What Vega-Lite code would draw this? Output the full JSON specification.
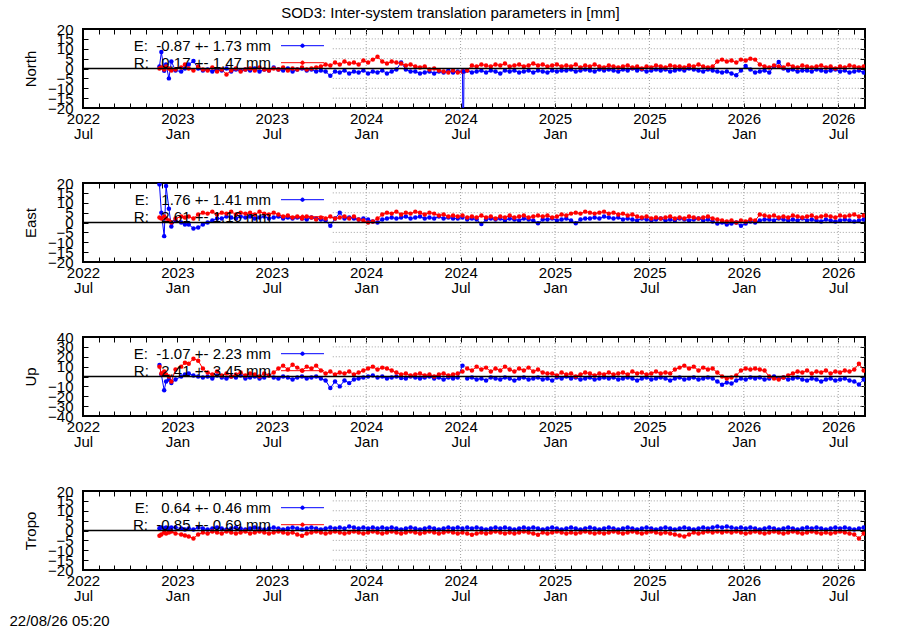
{
  "$schema": "https://vega.github.io/schema/vega-lite/v6.json",
  "padding": {"left": 8, "top": 5, "right": 5, "bottom": 5},
  "title": {"text": "SOD3: Inter-system translation parameters in [mm]", "fontSize": 15, "fontWeight": "normal", "font": "Liberation Sans", "anchor": "middle", "color": "black", "dx": 13, "offset": 0.5},
  "datasets": {
    "hgrid": [{"g": -15}, {"g": -10}, {"g": -5}, {"g": 5}, {"g": 10}, {"g": 15}],
    "hgridU": [{"g": -30}, {"g": -20}, {"g": -10}, {"g": 10}, {"g": 20}, {"g": 30}],
    "vgrid": [{"g": 2024}, {"g": 2024.5}, {"g": 2025}, {"g": 2025.5}, {"g": 2026}, {"g": 2026.5}],
    "zero": [{"v": 0}],
    "ts": [
      {"t":2022.905,"nE":1,"nR":0,"eE":19.3,"eR":2.5,"uE":11.7,"uR":10,"tE":1.2,"tR":-2.7},
      {"t":2022.915,"nE":8.3,"nR":0.5,"eE":5,"eR":2,"uE":2,"uR":3,"tE":1.5,"tR":-2},
      {"t":2022.93,"nE":-1.2,"nR":-0.5,"eE":-6.9,"eR":3,"uE":-14,"uR":5,"tE":1,"tR":-1},
      {"t":2022.94,"nE":2,"nR":1,"eE":18.5,"eR":2,"uE":-5,"uR":2,"tE":1.5,"tR":-1.5},
      {"t":2022.955,"nE":-5,"nR":0,"eE":7,"eR":1,"uE":-3,"uR":0,"tE":1,"tR":-1},
      {"t":2022.968,"nE":3.5,"nR":-1,"eE":-2,"eR":0,"uE":-6.7,"uR":-5,"tE":1.5,"tR":-0.5},
      {"t":2022.99,"nE":-1,"nR":-0.5,"eE":1,"eR":2,"uE":-3,"uR":7,"tE":1.5,"tR":-1.5},
      {"t":2023.02,"nE":-1.5,"nR":0.5,"eE":0,"eR":3,"uE":0,"uR":10,"tE":1,"tR":-2},
      {"t":2023.04,"nE":0,"nR":2,"eE":-1,"eR":2.5,"uE":2,"uR":14,"tE":0.5,"tR":-2.5},
      {"t":2023.06,"nE":2,"nR":0,"eE":-1,"eR":3,"uE":3,"uR":13,"tE":1,"tR":-3},
      {"t":2023.085,"nE":3.8,"nR":-1,"eE":-3,"eR":2,"uE":1,"uR":18,"tE":0.5,"tR":-4},
      {"t":2023.11,"nE":0,"nR":1,"eE":-2.5,"eR":4,"uE":0,"uR":16,"tE":1.5,"tR":-2},
      {"t":2023.135,"nE":-1,"nR":-0.5,"eE":-1,"eR":5,"uE":-1,"uR":8,"tE":1,"tR":-1},
      {"t":2023.16,"nE":-0.5,"nR":-1,"eE":0,"eR":4.5,"uE":0,"uR":4,"tE":0.5,"tR":-1.5},
      {"t":2023.185,"nE":-1.5,"nR":0.5,"eE":1,"eR":5.5,"uE":-2,"uR":2,"tE":1,"tR":-0.5},
      {"t":2023.21,"nE":-0.5,"nR":-1.5,"eE":2,"eR":4,"uE":1,"uR":5,"tE":1.5,"tR":-1},
      {"t":2023.235,"nE":-1,"nR":-0.5,"eE":2,"eR":5,"uE":-1,"uR":1,"tE":1,"tR":-1.5},
      {"t":2023.26,"nE":0,"nR":-3,"eE":3,"eR":4.5,"uE":-2,"uR":3,"tE":0.5,"tR":-0.5},
      {"t":2023.285,"nE":-1.5,"nR":-1,"eE":2.5,"eR":5.5,"uE":0,"uR":0,"tE":1,"tR":-1},
      {"t":2023.31,"nE":-0.5,"nR":0,"eE":2,"eR":4,"uE":-1,"uR":2,"tE":1.5,"tR":-1.5},
      {"t":2023.335,"nE":-1,"nR":-1.5,"eE":3,"eR":5,"uE":1,"uR":4,"tE":1,"tR":-1},
      {"t":2023.36,"nE":-0.5,"nR":-0.5,"eE":2.5,"eR":4.5,"uE":-2,"uR":1,"tE":0.5,"tR":-0.5},
      {"t":2023.385,"nE":-1,"nR":0,"eE":3,"eR":5,"uE":-1,"uR":3,"tE":1,"tR":-1.5},
      {"t":2023.41,"nE":0,"nR":-1,"eE":2,"eR":4,"uE":0,"uR":2,"tE":1.5,"tR":-1},
      {"t":2023.435,"nE":-1.5,"nR":0.5,"eE":2.5,"eR":5.5,"uE":-2,"uR":0,"tE":1,"tR":-0.5},
      {"t":2023.46,"nE":-0.5,"nR":-0.5,"eE":3,"eR":4.5,"uE":-1,"uR":3,"tE":0.5,"tR":-1},
      {"t":2023.485,"nE":-1,"nR":-1,"eE":2,"eR":4,"uE":1,"uR":1,"tE":1,"tR":-1.5},
      {"t":2023.51,"nE":0.5,"nR":0,"eE":2.5,"eR":5,"uE":-1,"uR":4,"tE":1.5,"tR":-1},
      {"t":2023.535,"nE":-0.5,"nR":-0.5,"eE":3,"eR":4,"uE":-2,"uR":8,"tE":1,"tR":-0.5},
      {"t":2023.56,"nE":-1,"nR":0.5,"eE":2,"eR":3,"uE":0,"uR":11,"tE":0.5,"tR":-1},
      {"t":2023.585,"nE":0,"nR":-1,"eE":2.5,"eR":3.5,"uE":-1,"uR":7,"tE":1,"tR":-1.5},
      {"t":2023.61,"nE":-1.5,"nR":0,"eE":2,"eR":2.5,"uE":-3,"uR":12,"tE":1.5,"tR":-1},
      {"t":2023.635,"nE":-0.5,"nR":-0.5,"eE":2.5,"eR":3,"uE":-1,"uR":9,"tE":1,"tR":-2},
      {"t":2023.66,"nE":0,"nR":0.5,"eE":2,"eR":2,"uE":0,"uR":6,"tE":0.5,"tR":-2.7},
      {"t":2023.685,"nE":-1,"nR":-0.5,"eE":1.5,"eR":3,"uE":-2,"uR":10,"tE":1,"tR":-1.5},
      {"t":2023.71,"nE":-0.5,"nR":0,"eE":2.5,"eR":2.5,"uE":-1,"uR":8,"tE":1.5,"tR":-1},
      {"t":2023.735,"nE":-1.5,"nR":0.5,"eE":2,"eR":1.5,"uE":0,"uR":11,"tE":1,"tR":-0.5},
      {"t":2023.76,"nE":-1,"nR":1,"eE":1.5,"eR":2.5,"uE":-2,"uR":6,"tE":0.5,"tR":-1},
      {"t":2023.785,"nE":-1.5,"nR":2,"eE":1,"eR":2,"uE":-4,"uR":3,"tE":1,"tR":-1.5},
      {"t":2023.81,"nE":-3.7,"nR":1.5,"eE":-1.7,"eR":3,"uE":-11.7,"uR":5,"tE":1.5,"tR":-1},
      {"t":2023.835,"nE":-1.5,"nR":3,"eE":2,"eR":2,"uE":-5,"uR":2,"tE":1,"tR":-0.5},
      {"t":2023.86,"nE":-2,"nR":2,"eE":5,"eR":2.5,"uE":-10,"uR":4,"tE":1.5,"tR":-1},
      {"t":2023.885,"nE":-1,"nR":3.5,"eE":2,"eR":3,"uE":-4,"uR":3,"tE":1,"tR":-1.5},
      {"t":2023.91,"nE":-2.5,"nR":2.5,"eE":2.5,"eR":2,"uE":-6.7,"uR":5,"tE":2,"tR":-1},
      {"t":2023.935,"nE":-1.5,"nR":3,"eE":2,"eR":3,"uE":-3,"uR":2,"tE":1.5,"tR":-0.5},
      {"t":2023.96,"nE":-2,"nR":2,"eE":1.5,"eR":1.5,"uE":-2,"uR":4,"tE":1,"tR":-1},
      {"t":2023.985,"nE":-1,"nR":4,"eE":2,"eR":1,"uE":-1,"uR":6,"tE":1.5,"tR":-1.5},
      {"t":2024.01,"nE":-2.5,"nR":3,"eE":1.5,"eR":0,"uE":0,"uR":8,"tE":1,"tR":-1},
      {"t":2024.035,"nE":-1.5,"nR":4.5,"eE":0.5,"eR":0.5,"uE":1,"uR":10,"tE":1.5,"tR":-0.5},
      {"t":2024.06,"nE":-2,"nR":6,"eE":0,"eR":2,"uE":-1,"uR":7,"tE":1,"tR":-1},
      {"t":2024.085,"nE":-1,"nR":3.5,"eE":1.5,"eR":4,"uE":0,"uR":9,"tE":1.5,"tR":-1.5},
      {"t":2024.11,"nE":-2.5,"nR":2.5,"eE":2,"eR":5,"uE":-2,"uR":8,"tE":1,"tR":-1},
      {"t":2024.135,"nE":-1.5,"nR":3.5,"eE":2.5,"eR":4.5,"uE":-1,"uR":6,"tE":1.5,"tR":-0.5},
      {"t":2024.16,"nE":-0.5,"nR":3,"eE":2,"eR":5.5,"uE":0,"uR":4,"tE":1,"tR":-1},
      {"t":2024.185,"nE":3,"nR":2.5,"eE":2.5,"eR":4,"uE":-1.5,"uR":2,"tE":0.5,"tR":-1.5},
      {"t":2024.21,"nE":-0.5,"nR":1.5,"eE":3,"eR":5,"uE":-2,"uR":3,"tE":1,"tR":-1},
      {"t":2024.235,"nE":-1.5,"nR":2,"eE":2,"eR":4.5,"uE":0,"uR":1,"tE":1.5,"tR":-0.5},
      {"t":2024.26,"nE":-1.5,"nR":1,"eE":2.5,"eR":5.5,"uE":-1,"uR":2,"tE":1,"tR":-1},
      {"t":2024.285,"nE":-2.5,"nR":0.5,"eE":3,"eR":5,"uE":-2,"uR":3,"tE":0.5,"tR":-1.5},
      {"t":2024.31,"nE":-2,"nR":1,"eE":2,"eR":4,"uE":-1,"uR":1,"tE":1,"tR":-1},
      {"t":2024.335,"nE":-1.5,"nR":-0.5,"eE":2.5,"eR":5,"uE":0,"uR":2,"tE":1.5,"tR":-0.5},
      {"t":2024.36,"nE":-2.5,"nR":0,"eE":2,"eR":4.5,"uE":-2,"uR":0,"tE":1,"tR":-1},
      {"t":2024.385,"nE":-1.5,"nR":-1,"eE":3,"eR":3.5,"uE":-1,"uR":2,"tE":0.5,"tR":-1.5},
      {"t":2024.41,"nE":-2,"nR":-1.5,"eE":2,"eR":4,"uE":-3,"uR":3,"tE":1,"tR":-1},
      {"t":2024.435,"nE":-1,"nR":-2,"eE":2.5,"eR":3,"uE":-1,"uR":1,"tE":1.5,"tR":-0.5},
      {"t":2024.46,"nE":-2,"nR":-1,"eE":2,"eR":3.5,"uE":-2,"uR":2,"tE":1,"tR":-1},
      {"t":2024.485,"nE":-1.5,"nR":-2,"eE":2,"eR":3,"uE":-1,"uR":3,"tE":1.5,"tR":-1.5},
      {"t":2024.51,"nE":-1.5,"nR":-1.5,"eE":2.5,"eR":3.5,"uE":11,"uR":5,"tE":1,"tR":-1},
      {"t":2024.514,"nE":-45},
      {"t":2024.518,"nE":-1.5},
      {"t":2024.535,"nE":-1,"nR":-1,"eE":1.5,"eR":2.5,"uE":-2,"uR":8,"tE":1.5,"tR":-1.5},
      {"t":2024.56,"nE":-2,"nR":1.5,"eE":2,"eR":3,"uE":-1,"uR":6,"tE":1,"tR":-2.2},
      {"t":2024.585,"nE":-1.5,"nR":1,"eE":1.5,"eR":2.5,"uE":-3,"uR":10,"tE":1.5,"tR":-1.5},
      {"t":2024.61,"nE":-1,"nR":2,"eE":-0.8,"eR":3.5,"uE":-2,"uR":7,"tE":1,"tR":-1},
      {"t":2024.635,"nE":-2,"nR":1.5,"eE":1.5,"eR":2.5,"uE":-4,"uR":9,"tE":0.5,"tR":-1.5},
      {"t":2024.66,"nE":-1,"nR":1,"eE":2,"eR":3,"uE":-1,"uR":5,"tE":1,"tR":-1},
      {"t":2024.685,"nE":-1.5,"nR":2,"eE":1.5,"eR":2,"uE":-2,"uR":8,"tE":1.5,"tR":-0.5},
      {"t":2024.71,"nE":-2.5,"nR":1.5,"eE":2,"eR":3,"uE":-3,"uR":6,"tE":1,"tR":-1},
      {"t":2024.735,"nE":-1,"nR":2.5,"eE":1,"eR":2.5,"uE":-1,"uR":10,"tE":1.5,"tR":-1.5},
      {"t":2024.76,"nE":-1.5,"nR":1,"eE":2,"eR":3.5,"uE":-2,"uR":7,"tE":1,"tR":-1},
      {"t":2024.785,"nE":-1,"nR":1.5,"eE":1.5,"eR":2.5,"uE":-4,"uR":5,"tE":0.5,"tR":-1.5},
      {"t":2024.81,"nE":-2,"nR":2,"eE":1,"eR":3,"uE":-2,"uR":8,"tE":1,"tR":-1},
      {"t":2024.835,"nE":-1.5,"nR":1,"eE":2,"eR":3.5,"uE":-1,"uR":6,"tE":1.5,"tR":-0.5},
      {"t":2024.86,"nE":-1,"nR":1.5,"eE":1.5,"eR":2.5,"uE":-3,"uR":9,"tE":1,"tR":-1},
      {"t":2024.885,"nE":-2,"nR":2.5,"eE":1,"eR":3,"uE":-2,"uR":5,"tE":1.5,"tR":-1.5},
      {"t":2024.91,"nE":-1,"nR":1.5,"eE":-0.4,"eR":3.5,"uE":-1,"uR":7,"tE":1,"tR":-2.2},
      {"t":2024.935,"nE":-1.5,"nR":2,"eE":1.5,"eR":3,"uE":-3,"uR":4,"tE":0.5,"tR":-1},
      {"t":2024.96,"nE":-2,"nR":1,"eE":1.5,"eR":3.5,"uE":-2,"uR":3,"tE":1,"tR":-1.5},
      {"t":2024.985,"nE":-1,"nR":1.5,"eE":2,"eR":2.5,"uE":-4,"uR":3,"tE":1.5,"tR":-1},
      {"t":2025.01,"nE":-1.5,"nR":2,"eE":1,"eR":3,"uE":-1,"uR":1,"tE":1,"tR":-0.5},
      {"t":2025.035,"nE":-1,"nR":1,"eE":1.5,"eR":4,"uE":-2,"uR":4,"tE":0.5,"tR":-1},
      {"t":2025.06,"nE":-1,"nR":1.5,"eE":2,"eR":3.5,"uE":0,"uR":2,"tE":1,"tR":-1.5},
      {"t":2025.085,"nE":-0.5,"nR":1,"eE":1,"eR":4.5,"uE":-2,"uR":3,"tE":1.5,"tR":-1},
      {"t":2025.11,"nE":-1.5,"nR":2,"eE":-0.4,"eR":5,"uE":-1,"uR":0,"tE":1,"tR":-1.5},
      {"t":2025.135,"nE":-1,"nR":0.5,"eE":1.5,"eR":4.5,"uE":-3,"uR":2,"tE":0.5,"tR":-1},
      {"t":2025.16,"nE":-0.5,"nR":1.5,"eE":2,"eR":5.5,"uE":-2,"uR":4,"tE":1,"tR":-0.5},
      {"t":2025.185,"nE":-1,"nR":1,"eE":2,"eR":5,"uE":-1,"uR":3,"tE":1.5,"tR":-1},
      {"t":2025.21,"nE":-1.5,"nR":2,"eE":2.5,"eR":4.5,"uE":-3,"uR":1,"tE":1,"tR":-1.5},
      {"t":2025.235,"nE":-0.5,"nR":1,"eE":2,"eR":5,"uE":-2,"uR":3,"tE":0.5,"tR":-1},
      {"t":2025.26,"nE":-1,"nR":0.5,"eE":3,"eR":5.5,"uE":-1,"uR":2,"tE":1,"tR":-1.5},
      {"t":2025.285,"nE":-0.5,"nR":1.5,"eE":2.5,"eR":4.5,"uE":-2,"uR":4,"tE":1.5,"tR":-1},
      {"t":2025.31,"nE":-1,"nR":1,"eE":2,"eR":5,"uE":-1,"uR":2,"tE":1,"tR":-0.5},
      {"t":2025.335,"nE":-1.5,"nR":0.5,"eE":2.5,"eR":4,"uE":-3,"uR":3,"tE":0.5,"tR":-1},
      {"t":2025.36,"nE":-0.5,"nR":1,"eE":1.5,"eR":4.5,"uE":-2,"uR":4,"tE":1,"tR":-1.5},
      {"t":2025.385,"nE":-1,"nR":1.5,"eE":2,"eR":3.5,"uE":-1,"uR":2,"tE":1.5,"tR":-1},
      {"t":2025.41,"nE":0,"nR":0.5,"eE":1.5,"eR":4,"uE":-2,"uR":5,"tE":1,"tR":-0.5},
      {"t":2025.435,"nE":-1,"nR":1,"eE":1,"eR":3,"uE":-4,"uR":3,"tE":0.5,"tR":-1},
      {"t":2025.46,"nE":-0.5,"nR":0,"eE":2,"eR":2.5,"uE":-2,"uR":4,"tE":1,"tR":-1.5},
      {"t":2025.485,"nE":-1.5,"nR":1,"eE":1.5,"eR":3,"uE":-1,"uR":2,"tE":1.5,"tR":-1},
      {"t":2025.51,"nE":-1,"nR":0.5,"eE":1,"eR":2,"uE":-3,"uR":3,"tE":1,"tR":-0.5},
      {"t":2025.535,"nE":-0.5,"nR":1.5,"eE":1.5,"eR":2.5,"uE":-2,"uR":5,"tE":0.5,"tR":-1},
      {"t":2025.56,"nE":-1,"nR":1,"eE":2,"eR":2,"uE":-1,"uR":3,"tE":1,"tR":-1.5},
      {"t":2025.585,"nE":-0.5,"nR":0.5,"eE":1,"eR":2.5,"uE":-2,"uR":4,"tE":1.5,"tR":-1},
      {"t":2025.61,"nE":-1.5,"nR":1.5,"eE":1.5,"eR":3,"uE":-4,"uR":3,"tE":1,"tR":-1.5},
      {"t":2025.635,"nE":-1,"nR":1,"eE":1,"eR":2,"uE":-2,"uR":7,"tE":0.5,"tR":-2},
      {"t":2025.66,"nE":-0.5,"nR":1,"eE":2,"eR":2.5,"uE":-1,"uR":9,"tE":1,"tR":-2.5},
      {"t":2025.685,"nE":-1,"nR":0.5,"eE":1.5,"eR":2,"uE":-3,"uR":11,"tE":1.5,"tR":-3},
      {"t":2025.71,"nE":0,"nR":1.5,"eE":1,"eR":3,"uE":-2,"uR":8,"tE":1,"tR":-2},
      {"t":2025.735,"nE":-0.5,"nR":1,"eE":1.5,"eR":2.5,"uE":-1,"uR":10,"tE":0.5,"tR":-1},
      {"t":2025.76,"nE":-1,"nR":2,"eE":2,"eR":2,"uE":-3,"uR":6,"tE":1,"tR":-1.5},
      {"t":2025.785,"nE":-1.5,"nR":1,"eE":1,"eR":2.5,"uE":-2,"uR":9,"tE":1.5,"tR":-1},
      {"t":2025.81,"nE":-0.5,"nR":0.5,"eE":1.5,"eR":3,"uE":-1,"uR":7,"tE":1,"tR":-0.5},
      {"t":2025.835,"nE":-1,"nR":1,"eE":0.5,"eR":2,"uE":-2,"uR":8,"tE":1.5,"tR":-1},
      {"t":2025.86,"nE":-1.5,"nR":3.5,"eE":-0.5,"eR":1.5,"uE":-5,"uR":4,"tE":2,"tR":-0.5},
      {"t":2025.885,"nE":-2,"nR":4.5,"eE":0,"eR":1,"uE":-8.3,"uR":0,"tE":1.5,"tR":-1},
      {"t":2025.91,"nE":-1.5,"nR":3.5,"eE":-1,"eR":0.5,"uE":-6,"uR":-2,"tE":2,"tR":-0.5},
      {"t":2025.935,"nE":-2.5,"nR":4,"eE":-0.5,"eR":1,"uE":-7,"uR":-1,"tE":1.5,"tR":-1},
      {"t":2025.96,"nE":-3.4,"nR":3,"eE":0,"eR":0,"uE":-4,"uR":1,"tE":1,"tR":-0.5},
      {"t":2025.985,"nE":-1,"nR":4.5,"eE":-1.7,"eR":1,"uE":-2,"uR":6,"tE":1.5,"tR":-1},
      {"t":2026.01,"nE":1.3,"nR":4,"eE":-0.5,"eR":0.5,"uE":-3,"uR":8,"tE":1,"tR":-1.5},
      {"t":2026.035,"nE":-0.5,"nR":5,"eE":0.5,"eR":1.5,"uE":-1,"uR":7,"tE":1.5,"tR":-1},
      {"t":2026.06,"nE":-2,"nR":4.5,"eE":0,"eR":1,"uE":-2,"uR":8,"tE":1,"tR":-0.5},
      {"t":2026.085,"nE":-1.5,"nR":2,"eE":1,"eR":4,"uE":-1,"uR":7,"tE":0.5,"tR":-1},
      {"t":2026.11,"nE":-1,"nR":1,"eE":1.5,"eR":3.5,"uE":-3,"uR":6,"tE":1,"tR":-1.5},
      {"t":2026.135,"nE":-2,"nR":0.5,"eE":1.5,"eR":3,"uE":-2,"uR":0,"tE":1.5,"tR":-1},
      {"t":2026.16,"nE":1,"nR":1.5,"eE":1,"eR":3.5,"uE":0,"uR":-2,"tE":1,"tR":-0.5},
      {"t":2026.185,"nE":3.3,"nR":1,"eE":2,"eR":2.5,"uE":-2,"uR":-3,"tE":0.5,"tR":-1},
      {"t":2026.21,"nE":0,"nR":0.5,"eE":1.5,"eR":3,"uE":-1,"uR":-1,"tE":1,"tR":-1.5},
      {"t":2026.235,"nE":-1,"nR":2,"eE":1,"eR":2.5,"uE":-3,"uR":1,"tE":1.5,"tR":-1},
      {"t":2026.26,"nE":-0.5,"nR":1,"eE":1.5,"eR":3.5,"uE":-2,"uR":3,"tE":1,"tR":-0.5},
      {"t":2026.285,"nE":-1.5,"nR":0.5,"eE":1,"eR":3,"uE":-1,"uR":5,"tE":0.5,"tR":-1},
      {"t":2026.31,"nE":-1,"nR":1.5,"eE":2,"eR":2.5,"uE":-3,"uR":4,"tE":1,"tR":-1.5},
      {"t":2026.335,"nE":-1,"nR":1,"eE":1,"eR":3,"uE":-4,"uR":6,"tE":1.5,"tR":-1},
      {"t":2026.36,"nE":-1.5,"nR":0.5,"eE":1.5,"eR":3.5,"uE":-2,"uR":3,"tE":1,"tR":-0.5},
      {"t":2026.385,"nE":-0.5,"nR":1,"eE":1,"eR":2.5,"uE":-3,"uR":5,"tE":1.5,"tR":-1},
      {"t":2026.41,"nE":-1,"nR":1.5,"eE":0.5,"eR":3,"uE":-5,"uR":4,"tE":1,"tR":-1.5},
      {"t":2026.435,"nE":-1.5,"nR":0.5,"eE":1.5,"eR":3.5,"uE":-3,"uR":6,"tE":0.5,"tR":-1},
      {"t":2026.46,"nE":-1,"nR":1,"eE":1,"eR":3,"uE":-2,"uR":3,"tE":1,"tR":-1.5},
      {"t":2026.485,"nE":-0.5,"nR":0,"eE":0.5,"eR":2.5,"uE":-4,"uR":5,"tE":1.5,"tR":-1},
      {"t":2026.51,"nE":-1.5,"nR":1,"eE":1,"eR":3.5,"uE":-3,"uR":4,"tE":1,"tR":-0.5},
      {"t":2026.535,"nE":-1,"nR":0.5,"eE":1.5,"eR":3,"uE":-2,"uR":6,"tE":1.5,"tR":-1},
      {"t":2026.56,"nE":-2,"nR":1.5,"eE":1,"eR":3.5,"uE":-4,"uR":5,"tE":1,"tR":-1.5},
      {"t":2026.585,"nE":-1.5,"nR":1,"eE":0.5,"eR":4,"uE":-5,"uR":7,"tE":0.5,"tR":-2},
      {"t":2026.61,"nE":-1,"nR":0.5,"eE":1,"eR":3,"uE":-8,"uR":13,"tE":1,"tR":-4},
      {"t":2026.635,"nE":-2,"nR":1,"eE":1.5,"eR":3.5,"uE":-3,"uR":6,"tE":1.5,"tR":-1.5}
    ]
  },
  "vconcat": [
    {
      "width": 782, "height": 79,
      "layer": [
        {"data": {"name": "hgrid"}, "mark": {"type": "rule", "color": "#a0a0a0", "strokeDash": [1, 2], "strokeWidth": 1},
         "encoding": {"y": {"field": "g", "type": "quantitative", "axis": null}, "x": {"datum": 2023.823, "type": "quantitative", "axis": null}, "x2": {"datum": 2026.642}}},
        {"data": {"name": "vgrid"}, "mark": {"type": "rule", "color": "#a0a0a0", "strokeDash": [1, 2], "strokeWidth": 1},
         "encoding": {"x": {"field": "g", "type": "quantitative", "axis": null}}},
        {"data": {"name": "ts"}, "transform": [{"fold": ["nE", "nR"], "as": ["s", "v"]}],
         "mark": {"type": "line", "strokeWidth": 1, "clip": true},
         "encoding": {
           "x": {"field": "t", "type": "quantitative", "scale": {"domain": [2022.5, 2026.642], "nice": false, "zero": false},
                 "axis": {"orient": "bottom", "title": null, "values": [2022.5,2022.5833,2022.6667,2022.75,2022.8333,2022.9167,2023,2023.0833,2023.1667,2023.25,2023.3333,2023.4167,2023.5,2023.5833,2023.6667,2023.75,2023.8333,2023.9167,2024,2024.0833,2024.1667,2024.25,2024.3333,2024.4167,2024.5,2024.5833,2024.6667,2024.75,2024.8333,2024.9167,2025,2025.0833,2025.1667,2025.25,2025.3333,2025.4167,2025.5,2025.5833,2025.6667,2025.75,2025.8333,2025.9167,2026,2026.0833,2026.1667,2026.25,2026.3333,2026.4167,2026.5,2026.5833],
                          "labelExpr": "round((datum.value-2022.5)*12) % 6 == 0 ? [toString(floor(datum.value+0.01)), datum.value - floor(datum.value+0.01) < 0.25 ? 'Jan' : 'Jul'] : ''"}},
           "y": {"field": "v", "type": "quantitative", "scale": {"domain": [-20, 20], "nice": false},
                 "axis": {"orient": "left", "title": "North", "values": [-20,-15,-10,-5,0,5,10,15,20]}},
           "color": {"field": "s", "type": "nominal", "scale": {"domain": ["nE", "nR"], "range": ["#0000ff", "#ff0000"]},
                     "legend": {"labelExpr": "datum.value == 'nE' ? 'E:\u00a0\u00a0-0.87 +- 1.73 mm' : 'R:\u00a0\u00a0\u00a00.17 +- 1.47 mm'"}}
         }},
        {"data": {"name": "ts"}, "transform": [{"fold": ["nE", "nR"], "as": ["s", "v"]}],
         "mark": {"type": "point", "filled": true, "size": 20, "opacity": 1, "clip": true},
         "encoding": {
           "x": {"field": "t", "type": "quantitative", "axis": {"orient": "top", "labels": false, "title": null, "values": [2022.5,2022.5833,2022.6667,2022.75,2022.8333,2022.9167,2023,2023.0833,2023.1667,2023.25,2023.3333,2023.4167,2023.5,2023.5833,2023.6667,2023.75,2023.8333,2023.9167,2024,2024.0833,2024.1667,2024.25,2024.3333,2024.4167,2024.5,2024.5833,2024.6667,2024.75,2024.8333,2024.9167,2025,2025.0833,2025.1667,2025.25,2025.3333,2025.4167,2025.5,2025.5833,2025.6667,2025.75,2025.8333,2025.9167,2026,2026.0833,2026.1667,2026.25,2026.3333,2026.4167,2026.5,2026.5833]}},
           "y": {"field": "v", "type": "quantitative", "axis": {"orient": "right", "labels": false, "title": null, "values": [-20,-15,-10,-5,0,5,10,15,20]}},
           "color": {"field": "s", "type": "nominal", "legend": {"labelExpr": "datum.value == 'nE' ? 'E:\u00a0\u00a0-0.87 +- 1.73 mm' : 'R:\u00a0\u00a0\u00a00.17 +- 1.47 mm'"}}
         }},
        {"data": {"name": "zero"}, "mark": {"type": "rule", "color": "black", "strokeWidth": 1.5},
         "encoding": {"y": {"field": "v", "type": "quantitative", "axis": null}}}
      ],
      "resolve": {"axis": {"x": "independent", "y": "independent"}}
    },
    {
      "width": 782, "height": 79,
      "layer": [
        {"data": {"name": "hgrid"}, "mark": {"type": "rule", "color": "#a0a0a0", "strokeDash": [1, 2], "strokeWidth": 1},
         "encoding": {"y": {"field": "g", "type": "quantitative", "axis": null}, "x": {"datum": 2023.823, "type": "quantitative", "axis": null}, "x2": {"datum": 2026.642}}},
        {"data": {"name": "vgrid"}, "mark": {"type": "rule", "color": "#a0a0a0", "strokeDash": [1, 2], "strokeWidth": 1},
         "encoding": {"x": {"field": "g", "type": "quantitative", "axis": null}}},
        {"data": {"name": "ts"}, "transform": [{"fold": ["eE", "eR"], "as": ["s", "v"]}],
         "mark": {"type": "line", "strokeWidth": 1, "clip": true},
         "encoding": {
           "x": {"field": "t", "type": "quantitative", "scale": {"domain": [2022.5, 2026.642], "nice": false, "zero": false},
                 "axis": {"orient": "bottom", "title": null, "values": [2022.5,2022.5833,2022.6667,2022.75,2022.8333,2022.9167,2023,2023.0833,2023.1667,2023.25,2023.3333,2023.4167,2023.5,2023.5833,2023.6667,2023.75,2023.8333,2023.9167,2024,2024.0833,2024.1667,2024.25,2024.3333,2024.4167,2024.5,2024.5833,2024.6667,2024.75,2024.8333,2024.9167,2025,2025.0833,2025.1667,2025.25,2025.3333,2025.4167,2025.5,2025.5833,2025.6667,2025.75,2025.8333,2025.9167,2026,2026.0833,2026.1667,2026.25,2026.3333,2026.4167,2026.5,2026.5833],
                          "labelExpr": "round((datum.value-2022.5)*12) % 6 == 0 ? [toString(floor(datum.value+0.01)), datum.value - floor(datum.value+0.01) < 0.25 ? 'Jan' : 'Jul'] : ''"}},
           "y": {"field": "v", "type": "quantitative", "scale": {"domain": [-20, 20], "nice": false},
                 "axis": {"orient": "left", "title": "East", "values": [-20,-15,-10,-5,0,5,10,15,20]}},
           "color": {"field": "s", "type": "nominal", "scale": {"domain": ["eE", "eR"], "range": ["#0000ff", "#ff0000"]},
                     "legend": {"labelExpr": "datum.value == 'eE' ? 'E:\u00a0\u00a0\u00a01.76 +- 1.41 mm' : 'R:\u00a0\u00a0\u00a02.61 +- 1.16 mm'"}}
         }},
        {"data": {"name": "ts"}, "transform": [{"fold": ["eE", "eR"], "as": ["s", "v"]}],
         "mark": {"type": "point", "filled": true, "size": 20, "opacity": 1, "clip": true},
         "encoding": {
           "x": {"field": "t", "type": "quantitative", "axis": {"orient": "top", "labels": false, "title": null, "values": [2022.5,2022.5833,2022.6667,2022.75,2022.8333,2022.9167,2023,2023.0833,2023.1667,2023.25,2023.3333,2023.4167,2023.5,2023.5833,2023.6667,2023.75,2023.8333,2023.9167,2024,2024.0833,2024.1667,2024.25,2024.3333,2024.4167,2024.5,2024.5833,2024.6667,2024.75,2024.8333,2024.9167,2025,2025.0833,2025.1667,2025.25,2025.3333,2025.4167,2025.5,2025.5833,2025.6667,2025.75,2025.8333,2025.9167,2026,2026.0833,2026.1667,2026.25,2026.3333,2026.4167,2026.5,2026.5833]}},
           "y": {"field": "v", "type": "quantitative", "axis": {"orient": "right", "labels": false, "title": null, "values": [-20,-15,-10,-5,0,5,10,15,20]}},
           "color": {"field": "s", "type": "nominal", "legend": {"labelExpr": "datum.value == 'eE' ? 'E:\u00a0\u00a0\u00a01.76 +- 1.41 mm' : 'R:\u00a0\u00a0\u00a02.61 +- 1.16 mm'"}}
         }},
        {"data": {"name": "zero"}, "mark": {"type": "rule", "color": "black", "strokeWidth": 1.5},
         "encoding": {"y": {"field": "v", "type": "quantitative", "axis": null}}}
      ],
      "resolve": {"axis": {"x": "independent", "y": "independent"}}
    },
    {
      "width": 782, "height": 79,
      "layer": [
        {"data": {"name": "hgridU"}, "mark": {"type": "rule", "color": "#a0a0a0", "strokeDash": [1, 2], "strokeWidth": 1},
         "encoding": {"y": {"field": "g", "type": "quantitative", "axis": null}, "x": {"datum": 2023.823, "type": "quantitative", "axis": null}, "x2": {"datum": 2026.642}}},
        {"data": {"name": "vgrid"}, "mark": {"type": "rule", "color": "#a0a0a0", "strokeDash": [1, 2], "strokeWidth": 1},
         "encoding": {"x": {"field": "g", "type": "quantitative", "axis": null}}},
        {"data": {"name": "ts"}, "transform": [{"fold": ["uE", "uR"], "as": ["s", "v"]}],
         "mark": {"type": "line", "strokeWidth": 1, "clip": true},
         "encoding": {
           "x": {"field": "t", "type": "quantitative", "scale": {"domain": [2022.5, 2026.642], "nice": false, "zero": false},
                 "axis": {"orient": "bottom", "title": null, "values": [2022.5,2022.5833,2022.6667,2022.75,2022.8333,2022.9167,2023,2023.0833,2023.1667,2023.25,2023.3333,2023.4167,2023.5,2023.5833,2023.6667,2023.75,2023.8333,2023.9167,2024,2024.0833,2024.1667,2024.25,2024.3333,2024.4167,2024.5,2024.5833,2024.6667,2024.75,2024.8333,2024.9167,2025,2025.0833,2025.1667,2025.25,2025.3333,2025.4167,2025.5,2025.5833,2025.6667,2025.75,2025.8333,2025.9167,2026,2026.0833,2026.1667,2026.25,2026.3333,2026.4167,2026.5,2026.5833],
                          "labelExpr": "round((datum.value-2022.5)*12) % 6 == 0 ? [toString(floor(datum.value+0.01)), datum.value - floor(datum.value+0.01) < 0.25 ? 'Jan' : 'Jul'] : ''"}},
           "y": {"field": "v", "type": "quantitative", "scale": {"domain": [-40, 40], "nice": false},
                 "axis": {"orient": "left", "title": "Up", "values": [-40,-30,-20,-10,0,10,20,30,40]}},
           "color": {"field": "s", "type": "nominal", "scale": {"domain": ["uE", "uR"], "range": ["#0000ff", "#ff0000"]},
                     "legend": {"labelExpr": "datum.value == 'uE' ? 'E:\u00a0\u00a0-1.07 +- 2.23 mm' : 'R:\u00a0\u00a0\u00a02.41 +- 3.45 mm'"}}
         }},
        {"data": {"name": "ts"}, "transform": [{"fold": ["uE", "uR"], "as": ["s", "v"]}],
         "mark": {"type": "point", "filled": true, "size": 20, "opacity": 1, "clip": true},
         "encoding": {
           "x": {"field": "t", "type": "quantitative", "axis": {"orient": "top", "labels": false, "title": null, "values": [2022.5,2022.5833,2022.6667,2022.75,2022.8333,2022.9167,2023,2023.0833,2023.1667,2023.25,2023.3333,2023.4167,2023.5,2023.5833,2023.6667,2023.75,2023.8333,2023.9167,2024,2024.0833,2024.1667,2024.25,2024.3333,2024.4167,2024.5,2024.5833,2024.6667,2024.75,2024.8333,2024.9167,2025,2025.0833,2025.1667,2025.25,2025.3333,2025.4167,2025.5,2025.5833,2025.6667,2025.75,2025.8333,2025.9167,2026,2026.0833,2026.1667,2026.25,2026.3333,2026.4167,2026.5,2026.5833]}},
           "y": {"field": "v", "type": "quantitative", "axis": {"orient": "right", "labels": false, "title": null, "values": [-40,-30,-20,-10,0,10,20,30,40]}},
           "color": {"field": "s", "type": "nominal", "legend": {"labelExpr": "datum.value == 'uE' ? 'E:\u00a0\u00a0-1.07 +- 2.23 mm' : 'R:\u00a0\u00a0\u00a02.41 +- 3.45 mm'"}}
         }},
        {"data": {"name": "zero"}, "mark": {"type": "rule", "color": "black", "strokeWidth": 1.5},
         "encoding": {"y": {"field": "v", "type": "quantitative", "axis": null}}}
      ],
      "resolve": {"axis": {"x": "independent", "y": "independent"}}
    },
    {
      "width": 782, "height": 79,
      "layer": [
        {"data": {"name": "hgrid"}, "mark": {"type": "rule", "color": "#a0a0a0", "strokeDash": [1, 2], "strokeWidth": 1},
         "encoding": {"y": {"field": "g", "type": "quantitative", "axis": null}, "x": {"datum": 2023.823, "type": "quantitative", "axis": null}, "x2": {"datum": 2026.642}}},
        {"data": {"name": "vgrid"}, "mark": {"type": "rule", "color": "#a0a0a0", "strokeDash": [1, 2], "strokeWidth": 1},
         "encoding": {"x": {"field": "g", "type": "quantitative", "axis": null}}},
        {"data": {"name": "ts"}, "transform": [{"fold": ["tE", "tR"], "as": ["s", "v"]}],
         "mark": {"type": "line", "strokeWidth": 1, "clip": true},
         "encoding": {
           "x": {"field": "t", "type": "quantitative", "scale": {"domain": [2022.5, 2026.642], "nice": false, "zero": false},
                 "axis": {"orient": "bottom", "title": "22/08/26 05:20", "titleX": -74, "titleY": 50, "titleAlign": "left", "titleBaseline": "middle", "titleFontWeight": "normal", "titleFontSize": 15,
                          "values": [2022.5,2022.5833,2022.6667,2022.75,2022.8333,2022.9167,2023,2023.0833,2023.1667,2023.25,2023.3333,2023.4167,2023.5,2023.5833,2023.6667,2023.75,2023.8333,2023.9167,2024,2024.0833,2024.1667,2024.25,2024.3333,2024.4167,2024.5,2024.5833,2024.6667,2024.75,2024.8333,2024.9167,2025,2025.0833,2025.1667,2025.25,2025.3333,2025.4167,2025.5,2025.5833,2025.6667,2025.75,2025.8333,2025.9167,2026,2026.0833,2026.1667,2026.25,2026.3333,2026.4167,2026.5,2026.5833],
                          "labelExpr": "round((datum.value-2022.5)*12) % 6 == 0 ? [toString(floor(datum.value+0.01)), datum.value - floor(datum.value+0.01) < 0.25 ? 'Jan' : 'Jul'] : ''"}},
           "y": {"field": "v", "type": "quantitative", "scale": {"domain": [-20, 20], "nice": false},
                 "axis": {"orient": "left", "title": "Tropo", "values": [-20,-15,-10,-5,0,5,10,15,20]}},
           "color": {"field": "s", "type": "nominal", "scale": {"domain": ["tE", "tR"], "range": ["#0000ff", "#ff0000"]},
                     "legend": {"labelExpr": "datum.value == 'tE' ? 'E:\u00a0\u00a0\u00a00.64 +- 0.46 mm' : 'R:\u00a0\u00a0-0.85 +- 0.69 mm'"}}
         }},
        {"data": {"name": "ts"}, "transform": [{"fold": ["tE", "tR"], "as": ["s", "v"]}],
         "mark": {"type": "point", "filled": true, "size": 20, "opacity": 1, "clip": true},
         "encoding": {
           "x": {"field": "t", "type": "quantitative", "axis": {"orient": "top", "labels": false, "title": null, "values": [2022.5,2022.5833,2022.6667,2022.75,2022.8333,2022.9167,2023,2023.0833,2023.1667,2023.25,2023.3333,2023.4167,2023.5,2023.5833,2023.6667,2023.75,2023.8333,2023.9167,2024,2024.0833,2024.1667,2024.25,2024.3333,2024.4167,2024.5,2024.5833,2024.6667,2024.75,2024.8333,2024.9167,2025,2025.0833,2025.1667,2025.25,2025.3333,2025.4167,2025.5,2025.5833,2025.6667,2025.75,2025.8333,2025.9167,2026,2026.0833,2026.1667,2026.25,2026.3333,2026.4167,2026.5,2026.5833]}},
           "y": {"field": "v", "type": "quantitative", "axis": {"orient": "right", "labels": false, "title": null, "values": [-20,-15,-10,-5,0,5,10,15,20]}},
           "color": {"field": "s", "type": "nominal", "legend": {"labelExpr": "datum.value == 'tE' ? 'E:\u00a0\u00a0\u00a00.64 +- 0.46 mm' : 'R:\u00a0\u00a0-0.85 +- 0.69 mm'"}}
         }},
        {"data": {"name": "zero"}, "mark": {"type": "rule", "color": "black", "strokeWidth": 1.5},
         "encoding": {"y": {"field": "v", "type": "quantitative", "axis": null}}}
      ],
      "resolve": {"axis": {"x": "independent", "y": "independent"}}
    }
  ],
  "spacing": 75,
  "bounds": "flush",
  "resolve": {"scale": {"x": "independent", "y": "independent", "color": "independent"}, "legend": {"color": "independent"}},
  "config": {
    "font": "Liberation Sans",
    "view": {"stroke": "black", "strokeWidth": 2},
    "axis": {"grid": false, "domain": false, "tickColor": "black", "tickSize": -5, "tickWidth": 1, "labelColor": "black", "labelFontSize": 15, "labelFont": "Liberation Sans", "labelPadding": 8, "labelOverlap": false, "labelFlush": false, "labelBound": false, "labelLineHeight": 15, "titleFontSize": 15, "titleFontWeight": "normal", "titleColor": "black", "titleFont": "Liberation Sans"},
    "axisLeft": {"titleX": -53, "titleBaseline": "middle", "labelPadding": 15},
    "legend": {"orient": "none", "legendX": 212, "legendY": 9.2, "title": null, "padding": 0, "labelLimit": 400,
               "symbolType": "M-3.07,0L3.07,0M-0.243,0A0.243,0.243,0,1,0,0.243,0A0.243,0.243,0,1,0,-0.243,0M-0.123,0A0.123,0.123,0,1,0,0.123,0A0.123,0.123,0,1,0,-0.123,0",
               "symbolSize": 196, "symbolStrokeWidth": 1, "labelAlign": "right", "labelOffset": -39, "labelFontSize": 15, "labelFont": "Liberation Sans", "labelColor": "black", "rowPadding": 1}
  }
}
